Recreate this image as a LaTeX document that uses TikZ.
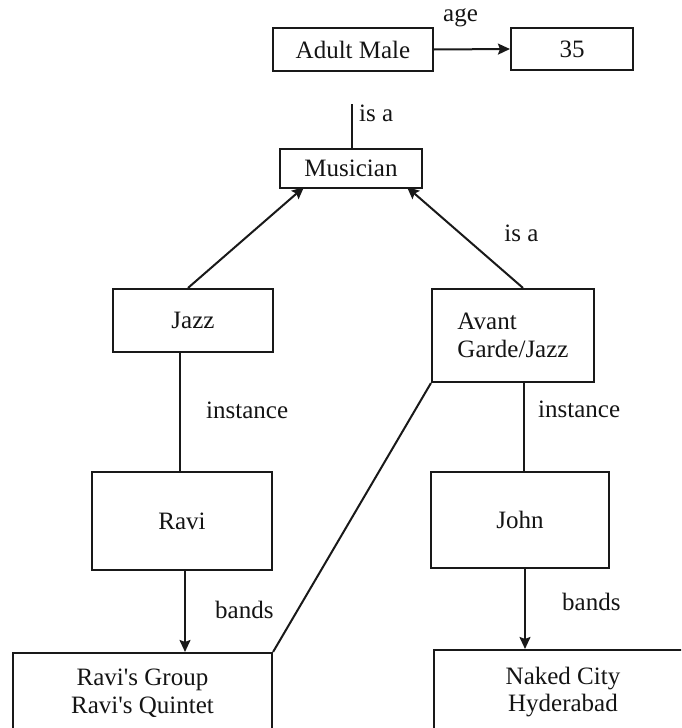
\documentclass[tikz,border=0pt]{standalone}
\usepackage{fontspec}
\setmainfont{Liberation Serif}
\usetikzlibrary{arrows.meta,calc}

\begin{document}
\begin{tikzpicture}[x=1pt,y=-1pt,
  every node/.style={font=\fontsize{25}{27.5}\selectfont, text=black!92},
  box/.style={draw=black!90, line width=2.1pt, inner sep=0pt, minimum width=#1},
  edge/.style={draw=black!90, line width=2pt},
  arr/.style={edge, -{Stealth[length=12pt,width=11pt,inset=2pt]}},
  rel/.style={inner sep=0pt}
]
  % page frame; the two lowest boxes run past the bottom edge
  \useasboundingbox (0,0) rectangle (681,728);
  \clip (0,0) rectangle (681,728);

  % frames
  \node[box=160, minimum height=43] (adult) at (353,49.5) {Adult Male};
  \node[box=122, minimum height=42] (age35) at (572,49) {35};
  \node[box=142, minimum height=39] (musician) at (351,168.5) {Musician};
  \node[box=160, minimum height=63] (jazz) at (193,320.5) {Jazz};
  \node[box=162, minimum height=93, align=left] (avant) at (513,335.5) {Avant\\Garde/Jazz};
  \node[box=180, minimum height=98] (ravi) at (182,521) {Ravi};
  \node[box=178, minimum height=96] (john) at (520,520) {John};
  \node[box=259, minimum height=80, align=center] (group) at (142.5,693)
    {Ravi\textquotesingle s Group\\Ravi\textquotesingle s Quintet};
  \node[box=258, minimum height=84, align=center] (naked) at (563,692) {Naked City\\Hyderabad};

  % slot links
  \draw[arr] (adult.east) -- (age35.west);
  \node[rel] (lage) at (460.5,18) {age};

  \coordinate (isatop) at (352,104);
  \draw[edge] (isatop) -- (isatop |- musician.north);
  \node[rel, anchor=west] (lisa1) at (359,113) {is a};

  \draw[arr] ($(jazz.north)+(-5,0)$) -- ($(musician.south)+(-47,-2)$);
  \draw[arr] ($(avant.north)+(10,0)$) -- ($(musician.south)+(56,-2)$);
  \node[rel] (lisa2) at (521.5,233) {is a};

  \draw[edge] (jazz.south -| 180,0) -- (ravi.north -| 180,0);
  \node[rel, anchor=west] (linst1) at (206,410) {instance};

  \draw[edge] (avant.south -| 524,0) -- (john.north -| 524,0);
  \node[rel, anchor=west] (linst2) at (538,409) {instance};

  \draw[edge] (avant.south west) -- (group.north east);

  \draw[arr] (ravi.south -| 185,0) -- (group.north -| 185,0);
  \node[rel, anchor=west] (lbands1) at (215,610) {bands};

  \draw[arr] (john.south -| 525,0) -- (naked.north -| 525,0);
  \node[rel, anchor=west] (lbands2) at (562,602) {bands};
\end{tikzpicture}
\end{document}
